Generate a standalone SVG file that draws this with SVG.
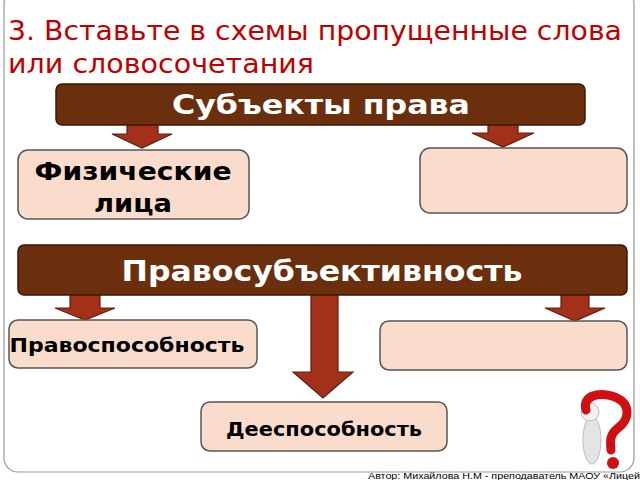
<svg xmlns="http://www.w3.org/2000/svg" width="640" height="480" viewBox="0 0 640 480">
<style>
.bar{fill:#6b2f0e;stroke:#3a1a06;stroke-width:1.5}
.box{fill:#fadccc;stroke:#555;stroke-width:1.5}
.arr{fill:#a5301a;stroke:#5a2010;stroke-width:1.2}
.bt{font-family:"DejaVu Sans",sans-serif;font-weight:bold;fill:#fff;text-anchor:middle}
.nt{font-family:"DejaVu Sans",sans-serif;font-weight:bold;fill:#000;text-anchor:middle}
</style>
<rect width="640" height="480" fill="#fff"/>
<rect x="4" y="-10" width="630" height="482" rx="14" fill="none" stroke="#999" stroke-width="1.2"/>
<text x="8" y="40" font-family="DejaVu Sans,sans-serif" font-size="26" fill="#c00000" textLength="614" lengthAdjust="spacingAndGlyphs">3. Вставьте в схемы пропущенные слова</text>
<text x="8" y="73" font-family="DejaVu Sans,sans-serif" font-size="26" fill="#c00000" textLength="306" lengthAdjust="spacingAndGlyphs">или словосочетания</text>
<g id="connectors">
<path class="arr" d="M127,120H158V134H172L142,148L112,134H127Z"/>
<path class="arr" d="M488,120H518V133H534L503,147L472,133H488Z"/>
<path class="arr" d="M70,292H100V308H115L85,320L55,308H70Z"/>
<path class="arr" d="M311,293H338V372H353L323,398L293,372H311Z"/>
<path class="arr" d="M561,294H589V308H605L575,321L545,308H561Z"/>
</g>
<g id="subjects"><rect class="bar" x="56" y="84" width="529" height="41" rx="6"/><text class="bt" x="321" y="114" font-size="26" textLength="298" lengthAdjust="spacingAndGlyphs">Субъекты права</text></g>
<g id="phys"><rect class="box" x="18" y="150" width="231" height="69" rx="10"/><text class="nt" x="133" y="180" font-size="25" textLength="197" lengthAdjust="spacingAndGlyphs">Физические</text><text class="nt" x="133" y="212" font-size="25" textLength="78" lengthAdjust="spacingAndGlyphs">лица</text></g>
<g id="empty1"><rect class="box" x="420" y="148" width="207" height="65" rx="10"/></g>
<g id="pravosub"><rect class="bar" x="18" y="245" width="609" height="50" rx="6"/><text class="bt" x="322" y="281" font-size="28" textLength="401" lengthAdjust="spacingAndGlyphs">Правосубъективность</text></g>
<g id="pravosp"><rect class="box" x="9" y="320" width="248" height="48" rx="9"/><text class="nt" x="127" y="352" font-size="19" textLength="235" lengthAdjust="spacingAndGlyphs">Правоспособность</text></g>
<g id="empty2"><rect class="box" x="380" y="321" width="247" height="49" rx="9"/></g>
<g id="deesp"><rect class="box" x="201" y="402" width="246" height="49" rx="9"/><text class="nt" x="324" y="436" font-size="19" textLength="196" lengthAdjust="spacingAndGlyphs">Дееспособность</text></g>
<g id="qmark">
<ellipse cx="592" cy="440" rx="9" ry="24" fill="#e4e4e4" stroke="#bbb"/>
<circle cx="590" cy="412" r="9" fill="#f0f0f0" stroke="#bbb"/>
<path d="M586,410 C582,396 598,392 612,396 C632,402 630,420 618,428 C610,434 610,440 611,450" fill="none" stroke="#d01010" stroke-width="9" stroke-linecap="round"/>
<circle cx="613" cy="463" r="6" fill="#d01010"/>
</g>
<text x="368" y="479" font-family="Liberation Sans,sans-serif" font-size="9" fill="#000" textLength="272" lengthAdjust="spacingAndGlyphs">Автор: Михайлова Н.М - преподаватель МАОУ «Лицей</text>
</svg>
